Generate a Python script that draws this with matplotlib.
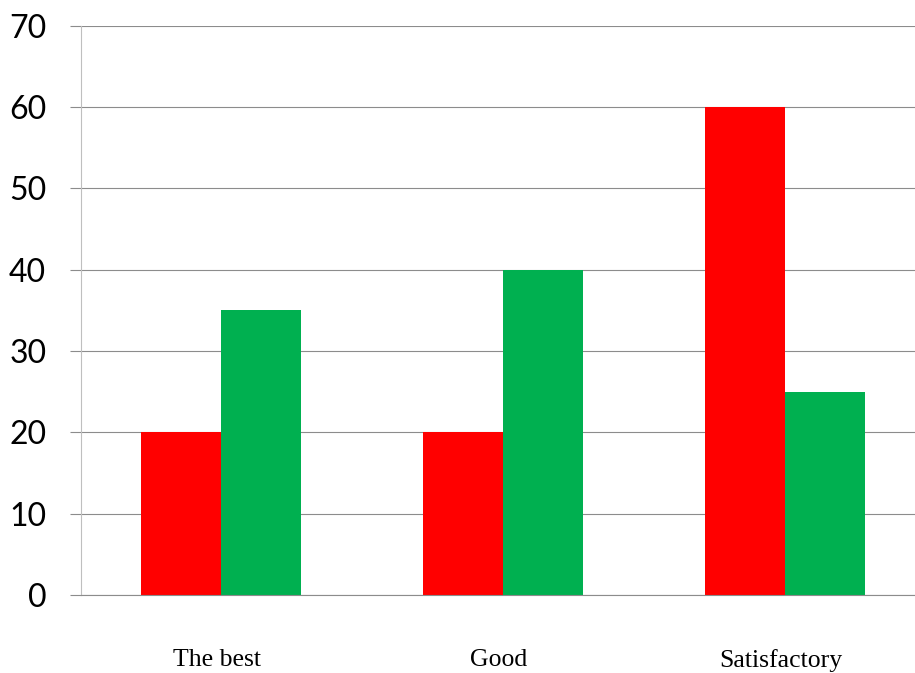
import matplotlib
matplotlib.use("Agg")
import matplotlib.pyplot as plt
import matplotlib.transforms as mtransforms
import numpy as np

categories = ["The best", "Good", "Satisfactory"]
series_red = [20, 20, 60]
series_green = [35, 40, 25]
y_ticks = [0, 10, 20, 30, 40, 50, 60, 70]

fig = plt.figure(figsize=(9.15, 6.73), dpi=100)
W, H = 915, 673
left_px, right_px, top_px, bottom_px = 81, 915, 25.5, 595
ax = fig.add_axes([left_px / W, (H - bottom_px) / H,
                   (right_px - left_px) / W, (bottom_px - top_px) / H])

x = np.arange(len(categories))
bw = 80 / 282
ax.bar(x - bw / 2, series_red, width=bw, color="#FF0000", zorder=3)
ax.bar(x + bw / 2, series_green, width=bw, color="#00B050", zorder=3)

ax.set_xlim(-(221 - left_px) / 282, 2 + (right_px - 785) / 282)
ax.set_ylim(0, 70)
ax.set_yticks(y_ticks)
ax.set_yticklabels([str(v) for v in y_ticks], fontfamily="Lato", fontsize=23)
ax.tick_params(axis="y", length=8, width=0.8, color="#8C8C8C", pad=17)
ax.set_xticks(x)
ax.set_xticklabels(categories, fontfamily="Liberation Serif", fontsize=18.5)
ax.tick_params(axis="x", length=0, pad=39)
offset = mtransforms.ScaledTranslation(-4 / 100, 0, fig.dpi_scale_trans)
for lbl in ax.get_xticklabels():
    lbl.set_transform(lbl.get_transform() + offset)

ax.yaxis.grid(True, color="#8C8C8C", linewidth=0.8, zorder=0)
ax.set_axisbelow(True)
for s in ["top", "right"]:
    ax.spines[s].set_visible(False)
ax.spines["bottom"].set_color("#8C8C8C")
ax.spines["bottom"].set_linewidth(0.8)
ax.spines["bottom"].set_zorder(4)
ax.spines["left"].set_color("#BFBFBF")
ax.spines["left"].set_linewidth(0.8)

fig.savefig("out.png", dpi=100)
